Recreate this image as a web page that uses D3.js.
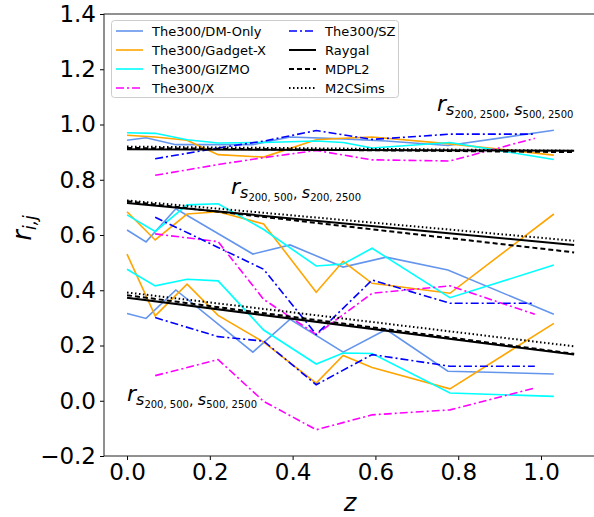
<!DOCTYPE html>
<html><head><meta charset="utf-8">
<script src="https://cdn.jsdelivr.net/npm/d3@7/dist/d3.min.js"></script>
<style>body{margin:0;background:#fff}svg{display:block;font-family:"DejaVu Sans",sans-serif}</style>
</head><body><svg id="c" width="594" height="517"></svg>
<script>
// ---- data ----
const zDM = [0, 0.046, 0.118, 0.304, 0.394, 0.522, 0.626, 0.775, 1.031];
const zHydro = [0, 0.068, 0.145, 0.22, 0.33, 0.457, 0.522, 0.592, 0.78, 1.031];
const zObs = [0.068, 0.22, 0.33, 0.457, 0.592, 0.78, 0.985];
const zRef = [0, 1.08];

const dmTop = [0.943, 0.952, 0.927, 0.927, 0.955, 0.948, 0.94, 0.924, 0.979];
const dmMid = [0.618, 0.575, 0.695, 0.531, 0.564, 0.484, 0.52, 0.473, 0.313];
const dmBot = [0.316, 0.298, 0.401, 0.176, 0.295, 0.176, 0.258, 0.107, 0.097];

const gxTop = [0.961, 0.955, 0.943, 0.891, 0.882, 0.945, 0.95, 0.955, 0.93, 0.889];
const gxMid = [0.684, 0.582, 0.676, 0.684, 0.64, 0.393, 0.505, 0.425, 0.389, 0.676];
const gxBot = [0.531, 0.307, 0.422, 0.309, 0.212, 0.064, 0.164, 0.12, 0.043, 0.28];

const gzTop = [0.970, 0.968, 0.945, 0.933, 0.935, 0.94, 0.935, 0.915, 0.935, 0.873];
const gzMid = [0.673, 0.613, 0.709, 0.713, 0.62, 0.488, 0.495, 0.552, 0.373, 0.491];
const gzBot = [0.476, 0.416, 0.44, 0.434, 0.256, 0.133, 0.173, 0.171, 0.028, 0.016];

const szTop = [0.876, 0.915, 0.94, 0.978, 0.946, 0.965, 0.965];
const szMid = [0.664, 0.555, 0.476, 0.24, 0.437, 0.353, 0.353];
const szBot = [0.301, 0.232, 0.216, 0.058, 0.167, 0.125, 0.125];

const xTop = [0.816, 0.855, 0.88, 0.906, 0.872, 0.868, 0.95];
const xMid = [0.604, 0.576, 0.367, 0.24, 0.389, 0.416, 0.313];
const xBot = [0.091, 0.149, -0.002, -0.105, -0.051, -0.033, 0.046];

const raygal = [[0.91, 0.905], [0.716, 0.564], [0.373, 0.167]];
const mdpl2 = [[0.915, 0.90], [0.722, 0.537], [0.382, 0.17]];
const m2c = [[0.92, 0.905], [0.725, 0.579], [0.392, 0.197]];

const xTicks = [0.0, 0.2, 0.4, 0.6, 0.8, 1.0];
const yTicks = [-0.2, 0.0, 0.2, 0.4, 0.6, 0.8, 1.0, 1.2, 1.4];

const series = [
  {name: "The300/DM-Only", color: "#6495ED", z: zDM, groups: [dmTop, dmMid, dmBot], dash: null, w: 1.6},
  {name: "The300/Gadget-X", color: "#FFA500", z: zHydro, groups: [gxTop, gxMid, gxBot], dash: null, w: 1.6},
  {name: "The300/GIZMO", color: "#00FFFF", z: zHydro, groups: [gzTop, gzMid, gzBot], dash: null, w: 1.6},
  {name: "The300/X", color: "#FF00FF", z: zObs, groups: [xTop, xMid, xBot], dash: "8,3,2,3", w: 1.6},
  {name: "The300/SZ", color: "#0000FF", z: zObs, groups: [szTop, szMid, szBot], dash: "8,3,2,3", w: 1.6},
  {name: "Raygal", color: "#000", z: zRef, groups: raygal, dash: null, w: 2},
  {name: "MDPL2", color: "#000", z: zRef, groups: mdpl2, dash: "5,3", w: 2},
  {name: "M2CSims", color: "#000", z: zRef, groups: m2c, dash: "1.5,2.5", w: 2}
];

// ---- layout ----
const L = 104, R = 596, T = 14, B = 456;
const x = d3.scaleLinear().domain([-0.0556, 1.1328]).range([L, R]);
const y = d3.scaleLinear().domain([-0.2, 1.4]).range([B, T]);
const svg = d3.select("#c");

svg.append("clipPath").attr("id", "clip").append("rect").attr("x", L).attr("y", T).attr("width", R - L).attr("height", B - T);
const plot = svg.append("g").attr("clip-path", "url(#clip)");
const line = d3.line().x(d => x(d[0])).y(d => y(d[1]));

series.forEach(s => {
  s.groups.forEach(vals => {
    plot.append("path").datum(s.z.map((z, i) => [z, vals[i]]))
      .attr("d", line).attr("fill", "none").attr("stroke", s.color)
      .attr("stroke-width", s.w).attr("stroke-dasharray", s.dash);
  });
});

// axes
const fmt = d => d3.format(".1f")(d).replace("-", "\u2212");
const xa = svg.append("g").attr("transform", `translate(0,${B})`)
  .call(d3.axisBottom(x).tickValues(xTicks).tickFormat(fmt).tickSizeOuter(0).tickSize(4).tickPadding(4));
const ya = svg.append("g").attr("transform", `translate(${L},0)`)
  .call(d3.axisLeft(y).tickValues(yTicks).tickFormat(fmt).tickSizeOuter(0).tickSize(4).tickPadding(4));
[xa, ya].forEach(a => {
  a.select(".domain").remove();
  a.selectAll("text").attr("font-size", 23).attr("fill", "#000").attr("font-family", "DejaVu Sans");
  a.selectAll("line").attr("stroke", "#000");
});
svg.append("rect").attr("x", L).attr("y", T).attr("width", R - L).attr("height", B - T)
  .attr("fill", "none").attr("stroke", "#222").attr("stroke-width", 1);

// axis labels
svg.append("text").attr("x", 350).attr("y", 511).attr("text-anchor", "middle")
  .attr("font-size", 24).attr("font-style", "italic").text("z");
const yl = svg.append("text").attr("transform", "translate(31,228) rotate(-90)").attr("text-anchor", "middle");
yl.append("tspan").attr("font-size", 26).attr("font-style", "italic").text("r");
yl.append("tspan").attr("font-size", 17).attr("font-style", "italic").attr("dy", 5).text("i,j");

// annotations
function ann(px, py, a, b) {
  const t = svg.append("text").attr("x", px).attr("y", py);
  t.append("tspan").attr("font-size", 22).attr("font-style", "italic").text("r");
  t.append("tspan").attr("font-size", 16).attr("font-style", "italic").attr("dy", 4).text("s");
  t.append("tspan").attr("font-size", 10).attr("dy", 3).text(a);
  t.append("tspan").attr("font-size", 14).attr("dy", -3).text(", ");
  t.append("tspan").attr("font-size", 16).attr("font-style", "italic").text("s");
  t.append("tspan").attr("font-size", 10).attr("dy", 3).text(b);
}
ann(437, 111, "200, 2500", "500, 2500");
ann(231, 194, "200, 500", "200, 2500");
ann(127, 401, "200, 500", "500, 2500");

// legend
const lg = svg.append("g");
lg.append("rect").attr("x", 111.5).attr("y", 20.5).attr("width", 287).attr("height", 77).attr("rx", 3)
  .attr("fill", "#fff").attr("fill-opacity", 0.8).attr("stroke", "#ccc");
const legendItems = ["The300/DM-Only", "The300/Gadget-X", "The300/GIZMO", "The300/X", "The300/SZ", "Raygal", "MDPL2", "M2CSims"];
legendItems.forEach((nm, i) => {
  const s = series.find(d => d.name === nm);
  const col = Math.floor(i / 4), row = i % 4;
  const hx = col ? 289 : 116, tx = col ? 325 : 152, cy = 31 + row * 19;
  lg.append("line").attr("x1", hx).attr("x2", hx + 27).attr("y1", cy).attr("y2", cy)
    .attr("stroke", s.color).attr("stroke-width", s.w).attr("stroke-dasharray", s.dash);
  lg.append("text").attr("x", tx).attr("y", cy + 5).attr("font-size", 13).text(nm);
});
</script></body></html>
